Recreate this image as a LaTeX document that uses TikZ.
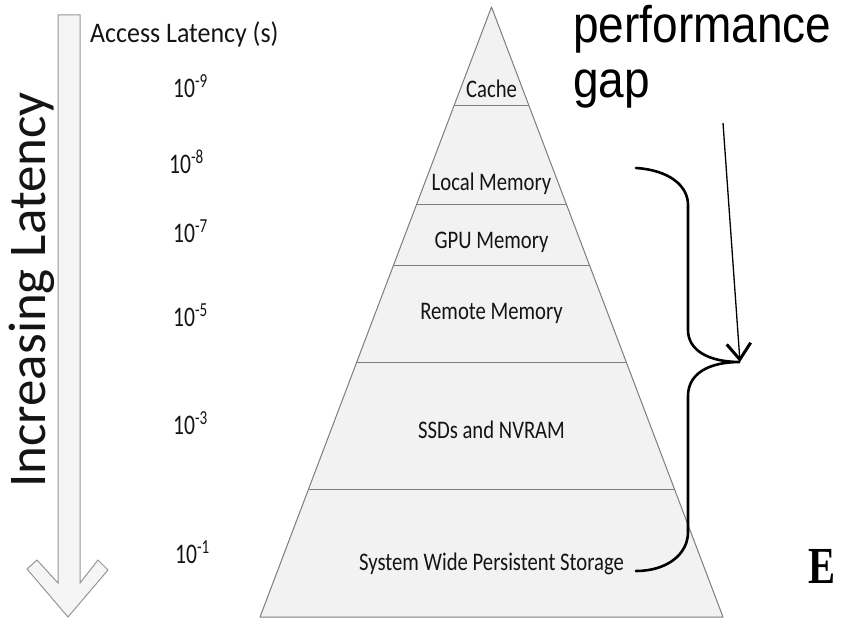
\documentclass[tikz,border=0pt]{standalone}
\usepackage{fontspec}
\usepackage{graphicx}
\setmainfont{Carlito}
\newfontfamily\arialfont{Liberation Sans}
\newfontfamily\timesfont{Liberation Serif}
\usetikzlibrary{arrows.meta}
\definecolor{pyrfill}{RGB}{242,242,242}
\definecolor{pyredge}{RGB}{125,125,125}
\definecolor{arrfill}{RGB}{245,245,245}
\definecolor{arredge}{RGB}{150,150,150}
\definecolor{txt}{RGB}{20,20,20}
\newcommand{\lyr}[1]{\scalebox{0.9}[1.1]{#1}}
\newcommand{\expo}[1]{\scalebox{0.8}[1.05]{10\textsuperscript{#1}}}
\begin{document}
\begin{tikzpicture}[x=1pt,y=-1pt,
  layer/.style={font=\fontsize{23}{23}\selectfont, inner sep=0pt, anchor=base, text=txt},
  expon/.style={font=\fontsize{27}{27}\selectfont, inner sep=0pt, anchor=base west, text=txt},
  sepline/.style={draw=pyredge, line width=1pt},
  bigtext/.style={font=\arialfont\fontsize{46}{46}\selectfont, inner sep=0pt, anchor=base west},
  brace/.style={draw=black, line width=2.6pt, line cap=round},
  gaparrow/.style={draw=black, line width=1.3pt, -{Straight Barb[length=16pt,width=24pt,line width=3pt]}}
]
\useasboundingbox (0,0) rectangle (842,618);
\clip (0,0) rectangle (842,618);

% left big arrow
\filldraw[fill=arrfill, draw=arredge, line width=1pt, line join=miter]
  (58,15) -- (58,583) -- (37,560) -- (27,569) -- (68,617) -- (108,570) -- (98,560) -- (80,583) -- (80,15) -- cycle;
\node[font=\fontsize{53}{53}\selectfont, inner sep=0pt, anchor=base, rotate=90, text=txt] (inc) at (45,290) {Increasing Latency};

% header
\node[font=\fontsize{27}{27}\selectfont, inner sep=0pt, anchor=base west, text=txt] (acc) at (90,42) {\scalebox{0.96}[1.05]{Access Latency (s)}};

% exponents
\node[expon] (e9) at (173,97) {\expo{-9}};
\node[expon] (e8) at (169,173) {\expo{-8}};
\node[expon] (e7) at (173,242) {\expo{-7}};
\node[expon] (e5) at (173,326) {\expo{-5}};
\node[expon] (e3) at (173,434) {\expo{-3}};
\node[expon] (e1) at (175,563) {\expo{-1}};

% pyramid
\fill[pyrfill] (491.5,7) -- (723,617) -- (260,617) -- cycle;
\draw[sepline] (454.3,105) -- (528.7,105);
\draw[sepline] (416.7,204) -- (566.3,204);
\draw[sepline] (393.6,265) -- (589.4,265);
\draw[sepline] (356.8,362) -- (626.2,362);
\draw[sepline] (308.6,489) -- (674.4,489);
\draw[draw=pyredge, line width=1pt, line join=round] (491.5,7) -- (723,617) -- (260,617) -- cycle;

\node[layer] (cache) at (491.5,97) {\lyr{Cache}};
\node[layer] (local) at (491.5,190) {\lyr{Local Memory}};
\node[layer] (gpu) at (491.5,248) {\lyr{GPU Memory}};
\node[layer] (remote) at (491.5,319) {\lyr{Remote Memory}};
\node[layer] (ssd) at (491.5,438) {\lyr{SSDs and NVRAM}};
\node[layer] (sys) at (491.5,570) {\lyr{System Wide Persistent Storage}};

% performance gap
\node[bigtext] (perf) at (573,43) {\scalebox{1}[1.12]{performance}};
\node[bigtext] (gaptxt) at (573,97) {\scalebox{1}[1.12]{gap}};

% brace
\coordinate (btop) at (636,168);
\coordinate (btip) at (740,362);
\coordinate (bbot) at (636,571);
\draw[brace] (btop) .. controls (668,170) and (688,185) .. (688,205) -- (688,330)
  .. controls (688,350) and (708,362) .. (btip)
  .. controls (708,362) and (688,374) .. (688,396) -- (688,532)
  .. controls (688,555) and (666,571) .. (bbot);

% arrow
\coordinate (gapstart) at (723,123);
\draw[gaparrow] (gapstart) -- (btip);

% clipped bold text
\node[font=\timesfont\bfseries\fontsize{52}{52}\selectfont, inner sep=0pt, anchor=base west] (ex) at (808,583) {\scalebox{0.78}[1]{E}};
\end{tikzpicture}
\end{document}
